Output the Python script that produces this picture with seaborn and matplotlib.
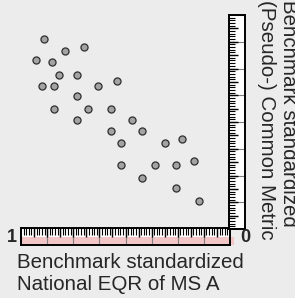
import numpy as np
import pandas as pd
import matplotlib
matplotlib.use("Agg")
import matplotlib.pyplot as plt
import seaborn as sns
from matplotlib.patches import Rectangle

# Data (x: benchmark standardized national EQR, y: common metric)
national_eqr = [0.89, 0.93, 0.85, 0.79, 0.70, 0.82, 0.73, 0.90, 0.84, 0.63,
                0.54, 0.73, 0.84, 0.68, 0.57, 0.73, 0.47, 0.57, 0.42, 0.52,
                0.31, 0.23, 0.52, 0.36, 0.26, 0.17, 0.42, 0.26, 0.15]
common_metric = [0.89, 0.79, 0.78, 0.83, 0.85, 0.72, 0.72, 0.67, 0.67, 0.67,
                 0.69, 0.62, 0.56, 0.56, 0.56, 0.51, 0.51, 0.46, 0.46, 0.40,
                 0.40, 0.42, 0.30, 0.30, 0.30, 0.32, 0.24, 0.19, 0.13]
x_end_labels = ["1", "0"]
x_title = "Benchmark standardized\nNational EQR of MS A"
y_title = "Benchmark standardized\n(Pseudo-) Common Metric"

sns.set_style("white")
plt.rcParams["font.family"] = ["Liberation Sans", "DejaVu Sans"]

W, H = 295, 298
BG = "#ececec"
fig = plt.figure(figsize=(W / 100, H / 100), dpi=100, facecolor=BG)


def fr(x0, y0, x1, y1):
    return [x0 / W, 1 - y1 / H, (x1 - x0) / W, (y1 - y0) / H]


# scatter axes
ax = fig.add_axes(fr(21, 15, 230, 229))
ax.set_facecolor("none")
df = pd.DataFrame({"eqr": national_eqr, "metric": common_metric})
sns.scatterplot(data=df, x="eqr", y="metric", ax=ax, s=26, color="#a3a3a3",
                edgecolor="#2e2e2e", linewidth=0.9, legend=False)
ax.set_xlim(1, 0)
ax.set_ylim(0, 1)
ax.axis("off")

major = np.linspace(0, 1, 9)

# horizontal ruler
axr = fig.add_axes(fr(21, 228, 230, 245))
axr.set_facecolor("white")
axr.set_xlim(1, 0)
axr.set_ylim(0, 1)
axr.axhspan(0, 0.45, color="#f2c6c6", lw=0)
axr.add_patch(Rectangle((0, 0), -0.018, 0.45, color="#f2c6c6", lw=0, clip_on=False))
axr.vlines(major, 0, 1, color="#808080", lw=0.8)
axr.vlines(np.arange(0, 1, 1 / 80), 0.6, 1, color="black", lw=0.8)
axr.vlines(np.arange(0, 1, 1 / 16), 0.48, 1, color="black", lw=1.0)
axr.set_xticks([]); axr.set_yticks([])
for s in axr.spines.values():
    s.set_color("black"); s.set_linewidth(1.4); s.set_visible(True)

# vertical ruler
axy = fig.add_axes(fr(229, 15, 245, 229))
axy.set_facecolor("white")
axy.set_xlim(0, 1)
axy.set_ylim(0, 1)
axy.hlines(major, 0, 1, color="#808080", lw=0.8)
axy.hlines(np.arange(0, 1, 1 / 80), 0, 0.38, color="black", lw=0.8)
axy.hlines(np.arange(0, 1, 1 / 16), 0, 0.55, color="black", lw=1.0)
axy.set_xticks([]); axy.set_yticks([])
for s in axy.spines.values():
    s.set_color("black"); s.set_linewidth(1.4); s.set_visible(True)

fig.text(12 / W, 1 - 238 / H, x_end_labels[0], ha="center", va="center",
         fontsize=13, fontweight="bold")
fig.text(245 / W, 1 - 238 / H, x_end_labels[1], ha="center", va="center",
         fontsize=13, fontweight="bold")

fig.text(17 / W, 1 - 253 / H, x_title, ha="left", va="top", fontsize=14.8,
         linespacing=1.22)
fig.text(298 / W, 1 - 0 / H, y_title, ha="right", va="top", rotation=270,
         multialignment="left", fontsize=14.8, linespacing=1.22)

fig.savefig("out.png", dpi=100, facecolor=BG)
